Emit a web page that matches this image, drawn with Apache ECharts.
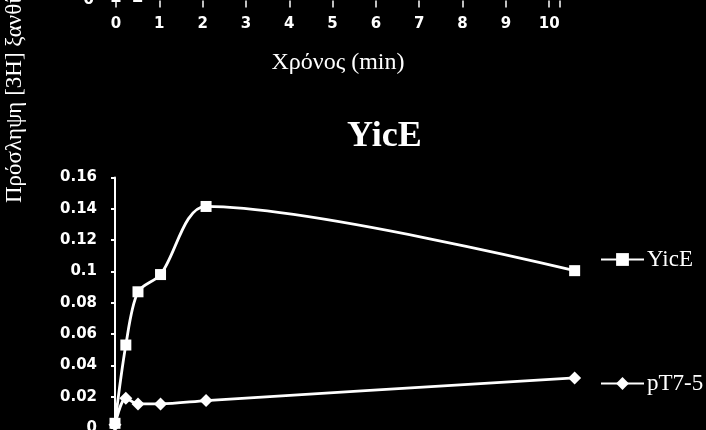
<!DOCTYPE html>
<html>
<head>
<meta charset="utf-8">
<script src="https://cdn.jsdelivr.net/npm/echarts@6/dist/echarts.min.js"></script>
<style>html,body{margin:0;padding:0;background:#000;}#c{width:706px;height:430px;}</style>
</head>
<body>
<div id="c"></div>
<script>
// Top (cropped) chart: x tick labels and the markers visible near zero
const topTicks = [0, 1, 2, 3, 4, 5, 6, 7, 8, 9, 10];
const topTime = [0, 0.5];
const topValues = [0, 0];

// Bottom chart: YicE
const time = [0, 0.25, 0.53, 1.05, 2.1, 10.6];
const yicE = [0.003, 0.053, 0.087, 0.098, 0.1415, 0.1005];
const pT75 = [0.002, 0.019, 0.0154, 0.0154, 0.0175, 0.032];
const yTicks = [0, 0.02, 0.04, 0.06, 0.08, 0.1, 0.12, 0.14, 0.16];

const title = 'YicE';
const xName = 'Χρόνος (min)';
const yName = 'Πρόσληψη [3H] ξανθίνης';
const seriesNames = ['YicE', 'pT7-5'];

const pair = (xs, ys) => xs.map((x, i) => [x, ys[i]]);
const W = '#ffffff';
const serif = 'Liberation Serif';
const sans = 'DejaVu Sans';

const chart = echarts.init(document.getElementById('c'), null, {renderer: 'canvas'});
chart.setOption({
  backgroundColor: '#000000',
  animation: false,
  title: {
    text: title, left: 347, top: 119, padding: 0,
    textStyle: {color: W, fontFamily: serif, fontWeight: 'bold', fontSize: 36}
  },
  legend: {
    data: seriesNames, orient: 'vertical', left: 600, top: 248, padding: 0,
    itemWidth: 43, itemHeight: 16, itemGap: 101,
    textStyle: {color: W, fontFamily: serif, fontSize: 23, padding: [0, 0, 0, -2]}
  },
  graphic: [{
    type: 'text', x: 15, y: 203, rotation: Math.PI / 2,
    style: {text: yName, fill: W, font: '23px "Liberation Serif"', textAlign: 'left', textVerticalAlign: 'middle'}
  }],
  grid: [
    {left: 116, top: 0, width: 444, height: 0.5, outerBoundsMode: 'none'},
    {left: 115, top: 177.5, width: 477, bottom: 2, outerBoundsMode: 'none'}
  ],
  xAxis: [
    {
      type: 'value', gridIndex: 0, min: 0, max: 10.25, interval: 1,
      name: xName, nameLocation: 'middle', nameGap: 50,
      nameTextStyle: {color: W, fontFamily: serif, fontSize: 24},
      axisLine: {show: false},
      axisTick: {show: true, length: 7, lineStyle: {color: W, width: 1.5}},
      axisLabel: {color: W, fontFamily: sans, fontWeight: 'bold', fontSize: 15, margin: 16,
        formatter: v => topTicks.includes(v) ? String(v) : ''},
      splitLine: {show: false}
    },
    {type: 'value', gridIndex: 1, min: 0, max: 11, show: false}
  ],
  yAxis: [
    {
      type: 'value', gridIndex: 0, min: 0, max: 0.16, interval: 0.16,
      axisLine: {show: false},
      axisTick: {show: false},
      axisLabel: {color: W, fontFamily: sans, fontWeight: 'bold', fontSize: 15, margin: 22,
        formatter: v => v === 0 ? '0' : ''},
      splitLine: {show: false}
    },
    {
      type: 'value', gridIndex: 1, min: 0, max: 0.16, interval: 0.02,
      axisLine: {show: true, lineStyle: {color: W, width: 2}},
      axisTick: {show: true, length: 4, lineStyle: {color: W, width: 2}},
      axisLabel: {color: W, fontFamily: sans, fontWeight: 'bold', fontSize: 15, margin: 18,
        formatter: v => { const t = yTicks.find(k => Math.abs(k - v) < 1e-9); return t === undefined ? '' : String(+t.toFixed(2)); }},
      splitLine: {show: false}
    }
  ],
  series: [
    {
      name: 'top', type: 'line', xAxisIndex: 0, yAxisIndex: 0,
      data: pair(topTime, topValues), symbol: 'rect', symbolSize: 9,
      symbolOffset: [0, -3],
      itemStyle: {color: W}, lineStyle: {width: 0}, clip: false
    },
    {
      name: seriesNames[0], type: 'line', xAxisIndex: 1, yAxisIndex: 1,
      data: pair(time, yicE), smooth: 0.3, symbol: 'rect', symbolSize: 11,
      itemStyle: {color: W}, lineStyle: {color: W, width: 2.8}, clip: false
    },
    {
      name: seriesNames[1], type: 'line', xAxisIndex: 1, yAxisIndex: 1,
      data: pair(time, pT75), smooth: 0.3, symbol: 'diamond', symbolSize: 13,
      itemStyle: {color: W}, lineStyle: {color: W, width: 2.8}, clip: false
    }
  ]
});
</script>
</body>
</html>
